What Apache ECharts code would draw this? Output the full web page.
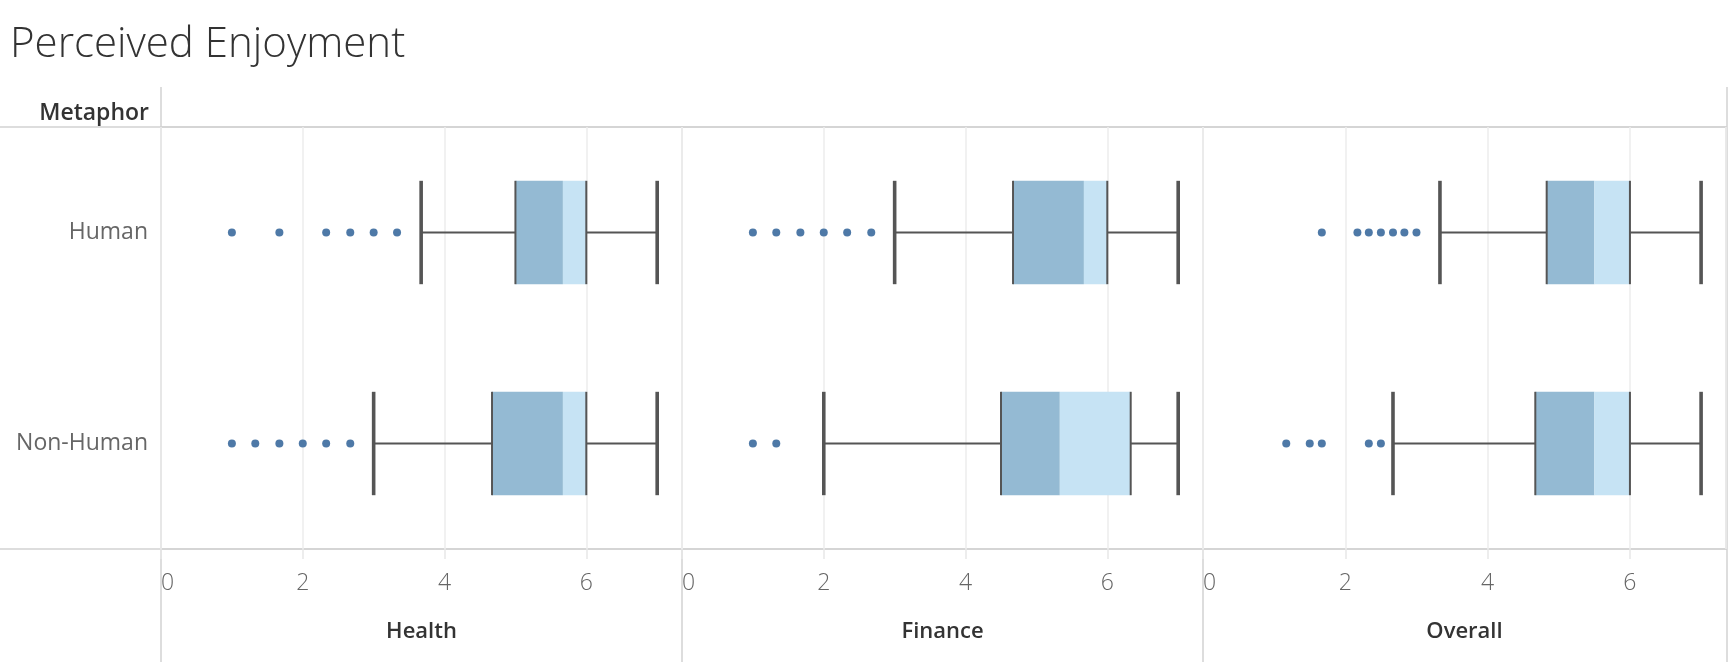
<!DOCTYPE html>
<html>
<head>
<meta charset="utf-8">
<title>Perceived Enjoyment</title>
<script src="https://cdn.jsdelivr.net/npm/echarts@6/dist/echarts.min.js"></script>
<style>
  html, body { margin: 0; padding: 0; background: #fff; }
  #main { width: 1730px; height: 662px; }
</style>
</head>
<body>
<div id="main"></div>
<script>
// facets and rows
const facets = ['Health', 'Finance', 'Overall'];
const metaphors = ['Human', 'Non-Human'];
const xTicks = [0, 2, 4, 6];

// [lower whisker, Q1, median, Q3, upper whisker], one row per metaphor
const healthBox = [[3.67, 5, 5.67, 6, 7], [3, 4.67, 5.67, 6, 7]];
const financeBox = [[3, 4.67, 5.67, 6, 7], [2, 4.5, 5.33, 6.33, 7]];
const overallBox = [[3.33, 4.83, 5.5, 6, 7], [2.67, 4.67, 5.5, 6, 7]];

// outliers per metaphor
const healthOutliers = [[1, 1.67, 2.33, 2.67, 3, 3.33], [1, 1.33, 1.67, 2, 2.33, 2.67]];
const financeOutliers = [[1, 1.33, 1.67, 2, 2.33, 2.67], [1, 1.33]];
const overallOutliers = [[1.67, 2.17, 2.33, 2.5, 2.67, 2.83, 3], [1.17, 1.5, 1.67, 2.33, 2.5]];

const boxes = [healthBox, financeBox, overallBox];
const outliers = [healthOutliers, financeOutliers, overallOutliers];

const FONT = '"Open Sans", "Noto Sans", sans-serif';
const LINE = '#d2d2d2';
const EDGE = '#555555';
const DARK = '#94bad3';
const LIGHT = '#c6e3f4';
const DOT = '#4e79a7';

const panelLeft = [161, 682, 1203];
const panelWidth = [521, 521, 523];
const panelTop = 127;
const panelHeight = 422;

const chart = echarts.init(document.getElementById('main'));

// tableau style box: two tone fill, edges only at Q1/Q3, heavy whisker caps
function renderBox(params, api) {
  const row = api.value(5);
  const lo = api.coord([api.value(0), row]);
  const q1 = api.coord([api.value(1), row]);
  const md = api.coord([api.value(2), row]);
  const q3 = api.coord([api.value(3), row]);
  const hi = api.coord([api.value(4), row]);
  const h = api.size([0, 1])[1] * 0.49;
  const cy = lo[1];
  const top = cy - h / 2;
  const bot = cy + h / 2;
  const thin = { stroke: EDGE, lineWidth: 2 };
  const thick = { stroke: EDGE, lineWidth: 3.6 };
  return {
    type: 'group',
    children: [
      { type: 'rect', shape: { x: q1[0], y: top, width: md[0] - q1[0], height: h }, style: { fill: DARK } },
      { type: 'rect', shape: { x: md[0], y: top, width: q3[0] - md[0], height: h }, style: { fill: LIGHT } },
      { type: 'line', shape: { x1: lo[0], y1: cy, x2: q1[0], y2: cy }, style: thin },
      { type: 'line', shape: { x1: q3[0], y1: cy, x2: hi[0], y2: cy }, style: thin },
      { type: 'line', shape: { x1: q1[0], y1: top, x2: q1[0], y2: bot }, style: thin },
      { type: 'line', shape: { x1: q3[0], y1: top, x2: q3[0], y2: bot }, style: thin },
      { type: 'line', shape: { x1: lo[0], y1: top, x2: lo[0], y2: bot }, style: thick },
      { type: 'line', shape: { x1: hi[0], y1: top, x2: hi[0], y2: bot }, style: thick }
    ]
  };
}

const grid = [];
const xAxis = [];
const yAxis = [];
const series = [];

facets.forEach((name, i) => {
  grid.push({
    left: panelLeft[i], top: panelTop, width: panelWidth[i], height: panelHeight,
    show: true, borderColor: LINE, borderWidth: 1.5, backgroundColor: 'transparent'
  });
  xAxis.push({
    gridIndex: i, type: 'value', min: 0, max: 7.35, interval: 2,
    axisLine: { show: false },
    axisTick: { show: true, length: 10, lineStyle: { color: '#e8e8e8', width: 1.5 } },
    splitLine: { show: true, lineStyle: { color: '#ededed', width: 1.5 } },
    axisLabel: {
      fontSize: 23, color: '#666', fontFamily: FONT, fontWeight: 300, margin: 23,
      alignMinLabel: 'left', showMaxLabel: false,
      formatter: v => (xTicks.indexOf(v) >= 0 ? String(v) : '')
    },
    name: name, nameLocation: 'middle', nameGap: 72,
    nameTextStyle: { fontSize: 22, color: '#333', fontFamily: FONT, fontWeight: 600 }
  });
  yAxis.push({
    gridIndex: i, type: 'category', data: metaphors, inverse: true,
    axisLine: { show: false }, axisTick: { show: false }, splitLine: { show: false },
    axisLabel: {
      show: i === 0, fontSize: 23, color: '#666', fontFamily: FONT, margin: 13,
      padding: [5, 0, 0, 0]
    }
  });
  series.push({
    type: 'custom', xAxisIndex: i, yAxisIndex: i,
    renderItem: renderBox,
    encode: { x: [0, 1, 2, 3, 4], y: 5 },
    data: boxes[i].map((b, r) => b.concat([r])),
    z: 2
  });
  const pts = [];
  outliers[i].forEach((vals, r) => vals.forEach(v => pts.push([v, metaphors[r]])));
  series.push({
    type: 'scatter', xAxisIndex: i, yAxisIndex: i,
    symbolSize: 8, itemStyle: { color: DOT, opacity: 1 },
    data: pts, z: 3
  });
});

const frame = [
  [0, 127, 1727, 127],
  [0, 549, 1727, 549],
  [161, 87, 161, 662],
  [1727, 87, 1727, 662],
  [682, 549, 682, 662],
  [1203, 549, 1203, 662]
].map(s => ({
  type: 'line', silent: true,
  shape: { x1: s[0], y1: s[1], x2: s[2], y2: s[3] },
  style: { stroke: LINE, lineWidth: 1.5 }
}));

chart.setOption({
  animation: false,
  grid: grid,
  xAxis: xAxis,
  yAxis: yAxis,
  series: series,
  graphic: [
    {
      type: 'text', left: 10, top: 24,
      style: { text: 'Perceived Enjoyment', font: '300 42px ' + FONT, fill: '#333' }
    },
    {
      type: 'text', x: 149, y: 113,
      style: { text: 'Metaphor', font: '600 23px ' + FONT, fill: '#333', align: 'right', verticalAlign: 'middle' }
    }
  ].concat(frame)
});
</script>
</body>
</html>
